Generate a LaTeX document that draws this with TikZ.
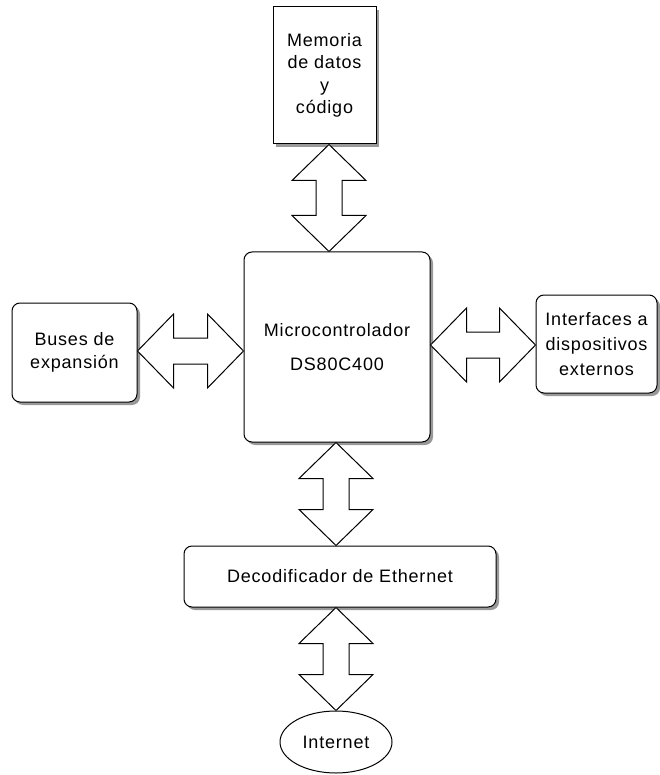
\documentclass[tikz,border=0pt]{standalone}
\usepackage{fontspec}
\setmainfont{Liberation Sans}[LetterSpace=4.5]
\usetikzlibrary{calc,shadows,shapes.geometric}

% Double-headed block arrow between two tip coordinates
\newcommand\blockarrow[2]{%
  \coordinate (#1#2a) at ($(#1)!36pt!(#2)$);
  \coordinate (#1#2b) at ($(#2)!36pt!(#1)$);
  \draw[blockline]
    (#1)
    -- ($(#1#2a)!37pt!90:(#2)$) -- ($(#1#2a)!13pt!90:(#2)$)
    -- ($(#1#2b)!13pt!90:(#2)$) -- ($(#1#2b)!37pt!90:(#2)$)
    -- (#2)
    -- ($(#1#2b)!37pt!-90:(#2)$) -- ($(#1#2b)!13pt!-90:(#2)$)
    -- ($(#1#2a)!13pt!-90:(#2)$) -- ($(#1#2a)!37pt!-90:(#2)$)
    -- cycle;}

\tikzset{
  box/.style={draw=black, line width=1pt, fill=white, align=center,
    inner sep=0pt, font=\fontsize{18}{23}\selectfont,
    drop shadow={shadow xshift=3pt, shadow yshift=-3pt, fill=black!40, opacity=1}},
  roundbox/.style={box, rounded corners=8pt},
  blockline/.style={draw=black, line width=1pt, fill=white, line join=miter},
}

\begin{document}
\begin{tikzpicture}[x=1pt, y=-1pt]
  \useasboundingbox (0,0) rectangle (660,775);
  \fill[white] (0,0) rectangle (660,775);

  \node[box, minimum width=103pt, minimum height=137pt,
        font=\fontsize{18}{22.5}\selectfont] (mem) at (324.5,75.5)
    {Memoria\\de datos\\y\\código};
  \node[roundbox, minimum width=186pt, minimum height=190pt,
        font=\fontsize{18}{34}\selectfont] (mc) at (337,347)
    {Microcontrolador\\DS80C400};
  \node[roundbox, minimum width=125pt, minimum height=99pt] (bus) at (74.5,352.5)
    {Buses de\\expansión};
  \node[roundbox, minimum width=121pt, minimum height=98pt,
        font=\fontsize{18}{25}\selectfont] (ifc) at (596.5,344)
    {Interfaces a\\dispositivos\\externos};
  \node[roundbox, minimum width=312pt, minimum height=61pt] (dec) at (340,576.5)
    {Decodificador de Ethernet};
  \node[draw=black, line width=1pt, ellipse, minimum width=112pt, minimum height=62pt,
        inner sep=0pt, font=\fontsize{18}{22}\selectfont] (net) at (336,742)
    {Internet};

  % tips of the block arrows
  \coordinate (memtip) at (mem.south -| 329,0);
  \coordinate (mctop)  at (mc.north -| 329,0);
  \coordinate (bustip) at (bus.east |- 0,351);
  \coordinate (mcleft) at (mc.west |- 0,351);
  \coordinate (mcright) at (mc.east |- 0,345);
  \coordinate (ifctip) at (ifc.west |- 0,345);
  \coordinate (mcbot)  at (mc.south -| 336,0);
  \coordinate (dectop) at (dec.north -| 336,0);
  \coordinate (decbot) at (dec.south -| 336,0);
  \coordinate (nettop) at (net.north);

  \blockarrow{memtip}{mctop}
  \blockarrow{bustip}{mcleft}
  \blockarrow{mcright}{ifctip}
  \blockarrow{mcbot}{dectop}
  \blockarrow{decbot}{nettop}
\end{tikzpicture}
\end{document}
